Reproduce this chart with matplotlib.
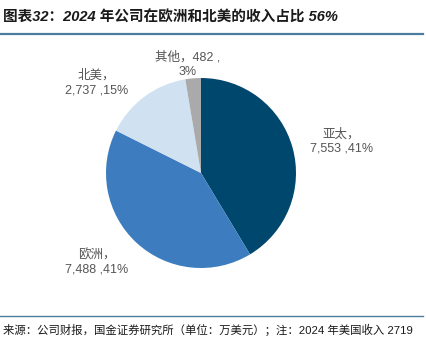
import matplotlib.pyplot as plt
from matplotlib.lines import Line2D

plt.rcParams['font.family'] = ['Liberation Sans', 'Noto Sans CJK SC', 'DejaVu Sans']

regions = ['亚太', '欧洲', '北美', '其他']
revenue = [7553, 7488, 2737, 482]
shares = ['41%', '41%', '15%', '3%']
colors = ['#00476e', '#3d7dbf', '#d0e1f2', '#aaaaaa']

# label spots around the pie, in units of the radius
label_pos = [(1.48, 0.33), (-1.1, -0.94), (-1.1, 0.95), (-0.14, 1.14)]

W, H = 427, 341
fig = plt.figure(figsize=(W / 100, H / 100), dpi=100)

# pie axes: radius 95 px centred at (201, 173) from top-left
cx, cy, r = 201, 173, 95
ax = fig.add_axes([(cx - r) / W, (H - cy - r) / H, 2 * r / W, 2 * r / H])
ax.pie(revenue, colors=colors, startangle=90, counterclock=False,
       radius=1, wedgeprops=dict(linewidth=0))
ax.set_xlim(-1, 1)
ax.set_ylim(-1, 1)
ax.set_aspect('equal')
ax.axis('off')

for name, v, s, (x, y) in zip(regions, revenue, shares, label_pos):
    if name == '其他':
        txt = f'{name}，{v:,} ,\n{s}'
    else:
        txt = f'{name}，\n{v:,} ,{s}'
    ax.text(x, y, txt, ha='center', va='center', fontsize=9,
            color='#555555', linespacing=1.25, clip_on=False)

# title and rules
fig.text(3 / W, 1 - 18 / H, '图表32：2024 年公司在欧洲和北美的收入占比 56%',
         fontsize=10.5, fontweight='bold', color='#1a1a1a',
         ha='left', va='center', style='italic')
fig.add_artist(Line2D([0, 423 / W], [1 - 33.5 / H] * 2, color='#4a7c9d', lw=1.6))
fig.add_artist(Line2D([0, 423 / W], [1 - 316 / H] * 2, color='#4a7c9d', lw=1.0))

fig.text(3 / W, 1 - 330 / H,
         '来源：公司财报，国金证券研究所（单位：万美元）；注：2024 年美国收入 2719',
         fontsize=8.2, color='#1a1a1a', ha='left', va='center')

fig.savefig('out.png', dpi=100)
